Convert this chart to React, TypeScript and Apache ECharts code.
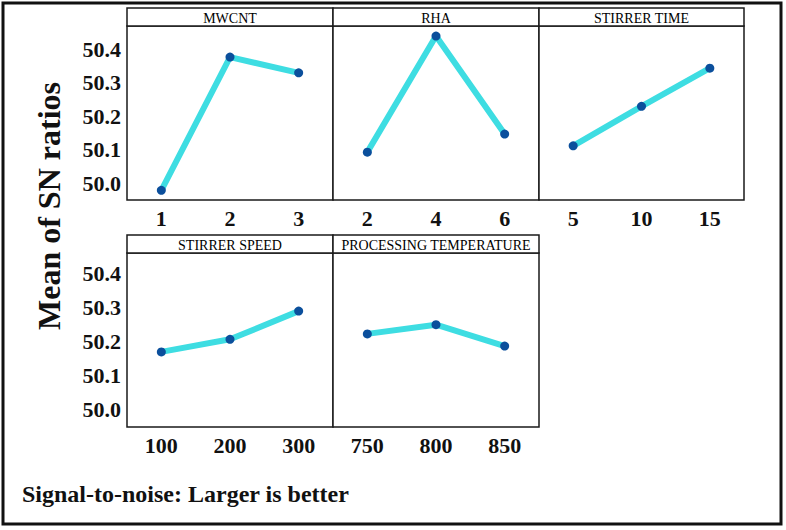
import React, { useEffect, useRef } from "react";
import * as echarts from "echarts";

// Factor levels and mean S/N ratios per level
const mwcntLevels = ["1", "2", "3"];
const mwcntSN = [49.979, 50.377, 50.33];

const rhaLevels = ["2", "4", "6"];
const rhaSN = [50.093, 50.44, 50.147];

const stirrerTimeLevels = ["5", "10", "15"];
const stirrerTimeSN = [50.112, 50.23, 50.344];

const stirrerSpeedLevels = ["100", "200", "300"];
const stirrerSpeedSN = [50.169, 50.206, 50.289];

const procTempLevels = ["750", "800", "850"];
const procTempSN = [50.222, 50.249, 50.186];

const yTicks = [50.0, 50.1, 50.2, 50.3, 50.4];

const factorTitles = ["MWCNT", "RHA", "STIRRER TIME", "STIRRER SPEED", "PROCESSING TEMPERATURE"];
const factorLevels = [mwcntLevels, rhaLevels, stirrerTimeLevels, stirrerSpeedLevels, procTempLevels];
const factorSN = [mwcntSN, rhaSN, stirrerTimeSN, stirrerSpeedSN, procTempSN];

const SERIF = "Liberation Serif";
const PANEL_W = 206;
const PANEL_H = 174;
const HEADER_H = 18;
const panelPos = [
  { left: 127, top: 26 },
  { left: 333, top: 26 },
  { left: 539, top: 26 },
  { left: 127, top: 253 },
  { left: 333, top: 253 },
];
// value range of each panel row
const rowRange = [
  { min: 49.95, max: 50.47 },
  { min: 49.948, max: 50.46 },
];

export default function App() {
  const ref = useRef<HTMLDivElement>(null);

  useEffect(() => {
    if (!ref.current) return;
    const chart = echarts.init(ref.current, null, { renderer: "svg" });

    const grid = panelPos.map((p, i) => ({
      left: p.left,
      top: p.top,
      width: i === 2 ? PANEL_W - 1 : PANEL_W,
      height: PANEL_H,
      show: true,
      borderColor: "#1a1a1a",
      borderWidth: 1.5,
      backgroundColor: "#fff",
    }));

    const xAxis = factorLevels.map((levels, i) => ({
      type: "category",
      gridIndex: i,
      data: levels,
      boundaryGap: true,
      axisLine: { show: false },
      axisTick: { show: false },
      splitLine: { show: false },
      axisLabel: {
        margin: 7,
        fontFamily: SERIF,
        fontWeight: "bold",
        fontSize: 22,
        color: "#111",
      },
    }));

    const yAxis = factorLevels.map((_, i) => ({
      type: "value",
      gridIndex: i,
      min: rowRange[i < 3 ? 0 : 1].min,
      max: rowRange[i < 3 ? 0 : 1].max,
      axisLine: { show: false },
      axisTick: { show: false },
      splitLine: { show: false },
      axisLabel: {
        show: i === 0 || i === 3,
        customValues: yTicks,
        formatter: (v: number) => v.toFixed(1),
        margin: 6,
        fontFamily: SERIF,
        fontWeight: "bold",
        fontSize: 22,
        color: "#111",
      },
    }));

    const series = factorSN.map((vals, i) => ({
      type: "line",
      xAxisIndex: i,
      yAxisIndex: i,
      data: vals,
      symbol: "circle",
      symbolSize: 9,
      lineStyle: { color: "#3edde2", width: 6 },
      itemStyle: { color: "#0b4f9c" },
    }));

    const headers: any[] = [];
    panelPos.forEach((p, i) => {
      const w = i === 2 ? PANEL_W - 1 : PANEL_W;
      headers.push({
        type: "rect",
        shape: { x: p.left, y: p.top - HEADER_H, width: w, height: HEADER_H },
        style: { fill: "#fff", stroke: "#1a1a1a", lineWidth: 1.5 },
      });
      headers.push({
        type: "text",
        x: p.left + w / 2,
        y: p.top - HEADER_H / 2 + 1,
        style: {
          text: factorTitles[i],
          fill: "#000",
          fontFamily: SERIF,
          fontSize: 14,
          align: "center",
          verticalAlign: "middle",
        },
      });
    });

    chart.setOption({
      animation: false,
      backgroundColor: "#fff",
      grid,
      xAxis,
      yAxis,
      series,
      graphic: [
        {
          type: "rect",
          shape: { x: 3, y: 3, width: 778, height: 521 },
          style: { fill: "none", stroke: "#111", lineWidth: 3 },
        },
        ...headers,
        {
          type: "text",
          x: 49,
          y: 206,
          rotation: Math.PI / 2,
          style: {
            text: "Mean of SN ratios",
            fill: "#111",
            fontFamily: SERIF,
            fontWeight: "bold",
            fontSize: 32,
            align: "center",
            verticalAlign: "middle",
          },
        },
        {
          type: "text",
          x: 22,
          y: 494,
          style: {
            text: "Signal-to-noise: Larger is better",
            fill: "#111",
            fontFamily: SERIF,
            fontWeight: "bold",
            fontSize: 24,
            align: "left",
            verticalAlign: "middle",
          },
        },
      ],
    });

    return () => chart.dispose();
  }, []);

  return (
    <div
      ref={ref}
      style={{ position: "fixed", left: 0, top: 0, width: 786, height: 530, background: "#fff" }}
    />
  );
}
